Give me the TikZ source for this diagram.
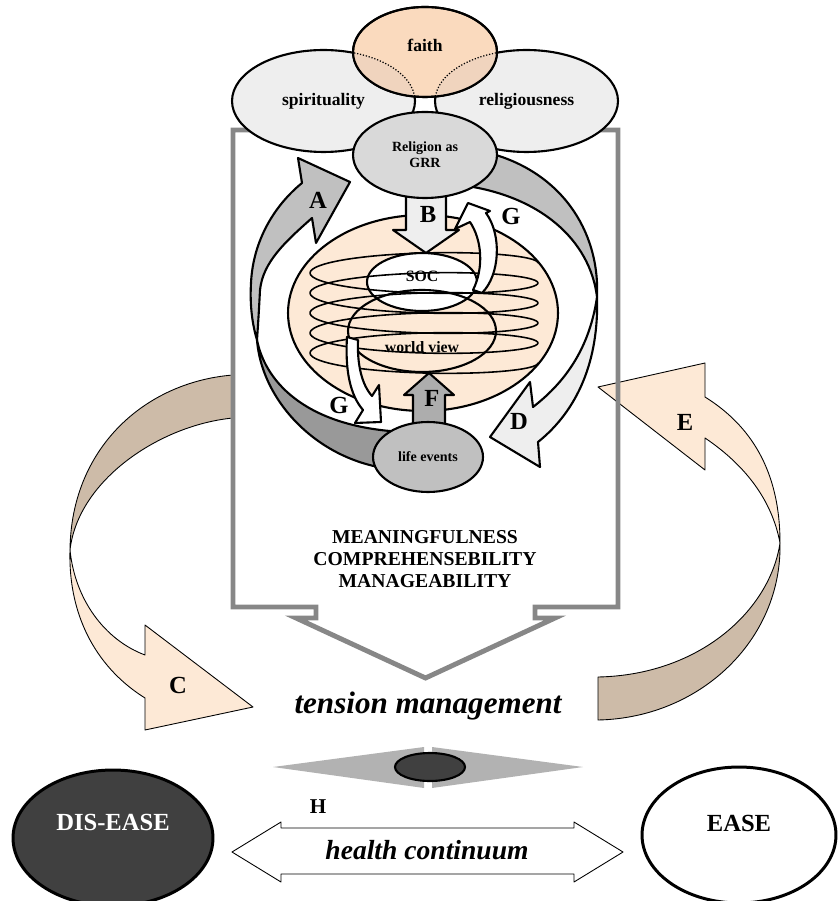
\documentclass[tikz,border=0pt]{standalone}
\usepackage{fontspec}
\setmainfont{Liberation Serif}
\usetikzlibrary{shapes.geometric, positioning, calc}
\definecolor{peach}{RGB}{253,233,214}
\definecolor{faithpeach}{RGB}{250,218,190}
\definecolor{overlap}{RGB}{240,212,190}
\definecolor{ribbontan}{RGB}{205,187,168}
\definecolor{framegrey}{RGB}{135,135,135}
\definecolor{lightgrey}{RGB}{238,238,238}
\definecolor{grrgrey}{RGB}{217,217,217}
\definecolor{midgrey}{RGB}{192,192,192}
\definecolor{darkgrey}{RGB}{153,153,153}
\definecolor{nearblack}{RGB}{64,64,64}
\tikzset{
  model/.style={
	x=0.02cm, y=-0.02cm, % one unit is one pixel, y runs downwards
	line join=round,
  },
  blob/.style={ellipse, draw, line width=1.2pt, inner sep=0pt, outer sep=0pt, font=\bfseries\fontsize{10}{12}\selectfont}, % the named ellipses
  band/.style={draw, line width=1.2pt}, % the grey arrows in the middle
  ribbon/.style={draw, line width=0.5pt}, % the thin outer arrows
  lbl/.style={font=\bfseries\fontsize{14}{16}\selectfont}, % the letters A to H
  caps/.style={font=\bfseries\fontsize{11.2}{12.6}\selectfont, align=center},
}
\begin{document}
\begin{tikzpicture}[model]
	  \useasboundingbox (0,0) rectangle (838,901);

	  % outer ribbons C and E, behind the frame
	  \path[ribbon, fill=ribbontan] (233,375) .. controls (145,382) and (71,448) .. (70,550) .. controls (78,480) and (160,425) .. (233,418) -- cycle;
	  \path[ribbon, fill=peach] (70,550) .. controls (68,620) and (100,670) .. (145,698) -- (145,730) -- (253,707) -- (145,625) -- (145,655) .. controls (105,640) and (75,600) .. (70,550) -- cycle;
	  \path[ribbon, fill=peach] (705,397) .. controls (750,425) and (780,470) .. (780,543) .. controls (772,500) and (745,465) .. (705,438) -- (705,470) -- (598,387) -- (705,363) -- cycle;
	  \path[ribbon, fill=ribbontan] (780,543) .. controls (782,640) and (700,718) .. (598,720) -- (598,677) .. controls (700,675) and (770,610) .. (780,543) -- cycle;

	  % frame
	  \draw[framegrey, line width=2.8pt, line join=miter] (233,130) -- (618,130) -- (618,607) -- (535,607) -- (535,618) -- (555,618) -- (425.5,678) -- (296,618) -- (316,618) -- (316,607) -- (233,607) -- cycle;

	  % top ellipses
	  \node[blob, fill=lightgrey, minimum width=3.66cm, minimum height=2.04cm] (spi) at (323.5,101) {spirituality};
	  \node[blob, fill=lightgrey, minimum width=3.66cm, minimum height=2.04cm] (rel) at (526.5,101) {religiousness};
	  \node[blob, fill=faithpeach, minimum width=2.88cm, minimum height=1.8cm] (faith) at (425,52) {};
	  \begin{scope}
		\clip (425,52) ellipse [x radius=72, y radius=45];
		\fill[overlap] (323.5,101) ellipse [x radius=91.5, y radius=51] (526.5,101) ellipse [x radius=91.5, y radius=51];
		\draw[densely dotted, line width=0.7pt] (323.5,101) ellipse [x radius=91.5, y radius=51] (526.5,101) ellipse [x radius=91.5, y radius=51];
	  \end{scope}
	  \draw[line width=1.2pt] (425,52) ellipse [x radius=72, y radius=45];
	  \node[font=\bfseries\fontsize{10}{12}\selectfont] (faithtxt) at ([yshift=0.14cm]faith.center) {faith};

	  % arrows A and D round the globe
	  \path[band, fill=midgrey] (257,340) .. controls (251,320) and (250,300) .. (251,283) .. controls (253,240) and (275,205) .. (302,183) -- (298,158) -- (350,182) -- (316,243) -- (312,218) .. controls (285,242) and (263,262) .. (260,290) .. controls (259,310) and (258,325) .. (257,340) -- cycle;
	  \path[band, fill=darkgrey] (257,340) .. controls (262,405) and (325,468) .. (405,470) -- (405,432) .. controls (310,428) and (266,385) .. (257,340) -- cycle;
	  \path[band, fill=midgrey] (485,152) .. controls (560,170) and (600,230) .. (597,297) .. controls (590,240) and (540,195) .. (460,185) -- cycle;
	  \path[band, fill=lightgrey] (597,297) .. controls (599,360) and (578,410) .. (538,442) -- (540,467) -- (490,437) -- (530,382) -- (533,407) .. controls (568,380) and (590,345) .. (597,297) -- cycle;

	  % globe
	  \node[blob, fill=peach, minimum width=5.4cm, minimum height=3.92cm] (globe) at (423,313) {};
	  \path[band, fill=lightgrey] (406,190) -- (446,190) -- (446,230) -- (459,230) -- (426,253) -- (393,230) -- (406,230) -- cycle;
	  \node[blob, fill=grrgrey, minimum width=2.88cm, minimum height=1.72cm, align=center, font=\bfseries\fontsize{8}{9}\selectfont] (grr) at (425,155) {Religion as\\GRR};

	  \fill[white] (422,282) ellipse [x radius=55, y radius=29];
	  \draw[line width=0.9pt] plot[domain=-180:1620, samples=300, smooth] ({424-114*cos(\x)}, {273+\x/18+15*sin(\x)});
	  \node[blob, minimum width=2.2cm, minimum height=1.16cm] (soc) at (422,282) {};
	  \node[font=\bfseries\fontsize{9}{11}\selectfont] (soctxt) at ([yshift=0.12cm]soc.center) {SOC};
	  \node[blob, minimum width=2.96cm, minimum height=1.64cm] (wv) at (422,331) {};
	  \node[font=\bfseries\fontsize{9}{11}\selectfont] (wvtxt) at ([yshift=-0.32cm]wv.center) {world view};

	  % G, F and life events
	  \path[band, fill=white] (468,203) -- (490,211) -- (486,213) .. controls (502,235) and (500,275) .. (482,293) -- (473,290) .. controls (484,268) and (482,240) .. (470,222) -- (455,229) -- cycle;
	  \path[band, fill=white] (347,337) .. controls (345,370) and (350,395) .. (363,410) -- (355,423) -- (381,422) -- (379,385) -- (372,396) .. controls (362,385) and (357,365) .. (358,340) -- cycle;
	  \path[band, fill=midgrey!90!black] (413,430) -- (413,395) -- (404,395) -- (429,373) -- (454,395) -- (445,395) -- (445,430) -- cycle;
	  \node[blob, fill=midgrey, minimum width=2.2cm, minimum height=1.4cm, font=\bfseries\fontsize{8}{10}\selectfont] (life) at (428,457) {life events};

	  % letters
	  \node[lbl] (la) at (318,200) {A};
	  \node[lbl] (lb) at (428,214) {B};
	  \node[lbl] (lg1) at (511,216) {G};
	  \node[lbl] (lg2) at (339,405) {G};
	  \node[lbl] (ld) at (519,421) {D};
	  \node[lbl] (lf) at (432,398) {F};
	  \node[lbl] (lc) at (178,685) {C};
	  \node[lbl] (le) at (685,422) {E};

	  \node[caps] (msc) at (425,559) {MEANINGFULNESS\\COMPREHENSEBILITY\\MANAGEABILITY};
	  \node[font=\bfseries\itshape\fontsize{17.7}{20}\selectfont] (tm) at (428,706) {tension management};

	  % health continuum
	  \fill[black!30] (273,767) -- (424,747) -- (424,788) -- cycle;
	  \fill[black!30] (432,747) -- (583,767) -- (432,788) -- cycle;
	  \node[ellipse, draw, line width=1.2pt, fill=nearblack, minimum width=1.4cm, minimum height=0.56cm, inner sep=0pt] (hub) at (430,767) {};
	  \node[lbl, font=\bfseries\fontsize{12}{14}\selectfont] (lh) at (318,807) {H};
	  \path[ribbon, fill=white] (232,852) -- (281,822) -- (281,828) -- (574,828) -- (574,822) -- (623,852) -- (574,882) -- (574,874) -- (281,874) -- (281,882) -- cycle;
	  \node[font=\bfseries\itshape\fontsize{15.7}{18}\selectfont] (hc) at (427,850) {health continuum};
	  \node[ellipse, draw, line width=1.7pt, fill=nearblack, minimum width=4cm, minimum height=2.72cm, inner sep=0pt] (dis) at (113,838) {};
	  \node[font=\bfseries\fontsize{14}{16}\selectfont, text=white] (distxt) at ([yshift=0.32cm]dis.center) {DIS-EASE};
	  \node[ellipse, draw, line width=1.7pt, fill=white, minimum width=3.88cm, minimum height=2.72cm, inner sep=0pt] (ease) at (739,835) {};
	  \node[font=\bfseries\fontsize{14}{16}\selectfont] (easetxt) at ([yshift=0.24cm]ease.center) {EASE};
\end{tikzpicture}
\end{document}
